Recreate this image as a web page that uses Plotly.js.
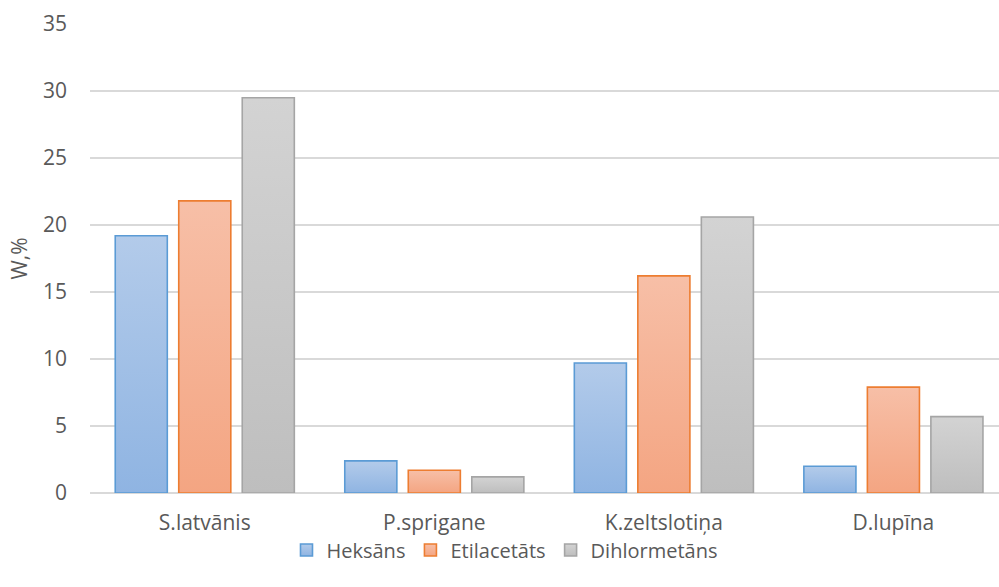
<!DOCTYPE html>
<html>
<head>
<meta charset="utf-8">
<script src="https://cdn.plot.ly/plotly-3.0.1.min.js"></script>
<style>
  html, body { margin: 0; padding: 0; background: #ffffff; }
  #chart { width: 999px; height: 587px; }
</style>
</head>
<body>
<div id="chart"></div>
<script>
// Plant samples along the category axis
const categories = ['S.latvānis', 'P.sprigane', 'K.zeltslotiņa', 'D.lupīna'];

// Extract yield W,% for each solvent
const heksans      = [19.2, 2.4, 9.7, 2.0];
const etilacetats  = [21.8, 1.7, 16.2, 7.9];
const dihlormetans = [29.5, 1.2, 20.6, 5.7];

const seriesNames = ['Heksāns', 'Etilacetāts', 'Dihlormetāns'];
const yTicks = [0, 5, 10, 15, 20, 25, 30, 35];

// Fill / outline colours and the vertical gradient stops per series
const styles = [
  { line: '#5b9bd5', mid: '#a2bfe6', top: '#b3cbea', bottom: '#8fb4e2' },
  { line: '#ed7d31', mid: '#f5b193', top: '#f7bfa7', bottom: '#f4a582' },
  { line: '#a5a5a5', mid: '#c8c8c8', top: '#d3d3d3', bottom: '#bebebe' }
];

const seriesValues = [heksans, etilacetats, dihlormetans];

const traces = seriesValues.map((vals, i) => ({
  type: 'bar',
  name: seriesNames[i],
  x: categories,
  y: vals,
  marker: {
    color: styles[i].mid,
    line: { color: styles[i].line, width: 1.6 }
  },
  hoverinfo: 'x+y+name'
}));

const textColor = '#595959';
const fontSize = 21;
const font = { family: '"Open Sans", "DejaVu Sans", sans-serif', size: fontSize, color: textColor };

const layout = {
  width: 999,
  height: 587,
  margin: { l: 90, r: 0, t: 24, b: 94, pad: 0 },
  paper_bgcolor: '#ffffff',
  plot_bgcolor: '#ffffff',
  font: font,
  barmode: 'group',
  bargap: 0.17,
  bargroupgap: 0.18,
  showlegend: true,
  legend: {
    orientation: 'h',
    xref: 'container',
    x: 0.505,
    xanchor: 'center',
    yref: 'container',
    y: 0.063,
    yanchor: 'middle',
    bgcolor: 'rgba(0,0,0,0)',
    font: { family: font.family, size: 20, color: textColor },
    itemwidth: 30,
    tracegroupgap: 0,
    traceorder: 'normal',
    itemclick: false,
    itemdoubleclick: false
  },
  xaxis: {
    type: 'category',
    range: [-0.5, 3.46],
    showgrid: false,
    showline: false,
    zeroline: false,
    ticks: '',
    ticklabelstandoff: 15,
    tickfont: { family: font.family, size: fontSize, color: textColor },
    fixedrange: true
  },
  yaxis: {
    range: [0, 35],
    tickvals: yTicks,
    ticktext: yTicks.map(String),
    showgrid: true,
    gridcolor: '#d9d9d9',
    gridwidth: 1.3,
    zeroline: true,
    zerolinecolor: '#d9d9d9',
    zerolinewidth: 1.3,
    showline: false,
    ticks: '',
    ticklabelstandoff: 22,
    tickfont: { family: font.family, size: fontSize, color: textColor },
    title: {
      text: 'W,%',
      font: { family: font.family, size: fontSize, color: textColor },
      standoff: 9
    },
    fixedrange: true
  }
};

// Apply a soft top-to-bottom gradient to each series' bars and legend swatch
function applyGradients(gd) {
  const svgNS = 'http://www.w3.org/2000/svg';
  const svg = gd.querySelector('svg.main-svg');
  let defs = svg.querySelector('defs');
  if (!defs) {
    defs = document.createElementNS(svgNS, 'defs');
    svg.insertBefore(defs, svg.firstChild);
  }
  styles.forEach((s, i) => {
    const grad = document.createElementNS(svgNS, 'linearGradient');
    grad.setAttribute('id', 'bar-grad-' + i);
    grad.setAttribute('x1', '0'); grad.setAttribute('y1', '0');
    grad.setAttribute('x2', '0'); grad.setAttribute('y2', '1');
    [[0, s.top], [1, s.bottom]].forEach(([off, col]) => {
      const stop = document.createElementNS(svgNS, 'stop');
      stop.setAttribute('offset', off);
      stop.setAttribute('stop-color', col);
      grad.appendChild(stop);
    });
    defs.appendChild(grad);
  });
  gd.querySelectorAll('.barlayer .trace.bars').forEach((g, i) => {
    g.querySelectorAll('.point path').forEach(p => {
      p.style.fill = 'url(#bar-grad-' + i + ')';
    });
  });
  gd.querySelectorAll('.legend .traces').forEach((g, i) => {
    g.querySelectorAll('.legendpoints path').forEach(p => {
      p.style.fill = 'url(#bar-grad-' + i + ')';
    });
  });
}

const gd = document.getElementById('chart');
Plotly.newPlot(gd, traces, layout, { displayModeBar: false, staticPlot: true })
  .then(() => applyGradients(gd));
</script>
</body>
</html>
